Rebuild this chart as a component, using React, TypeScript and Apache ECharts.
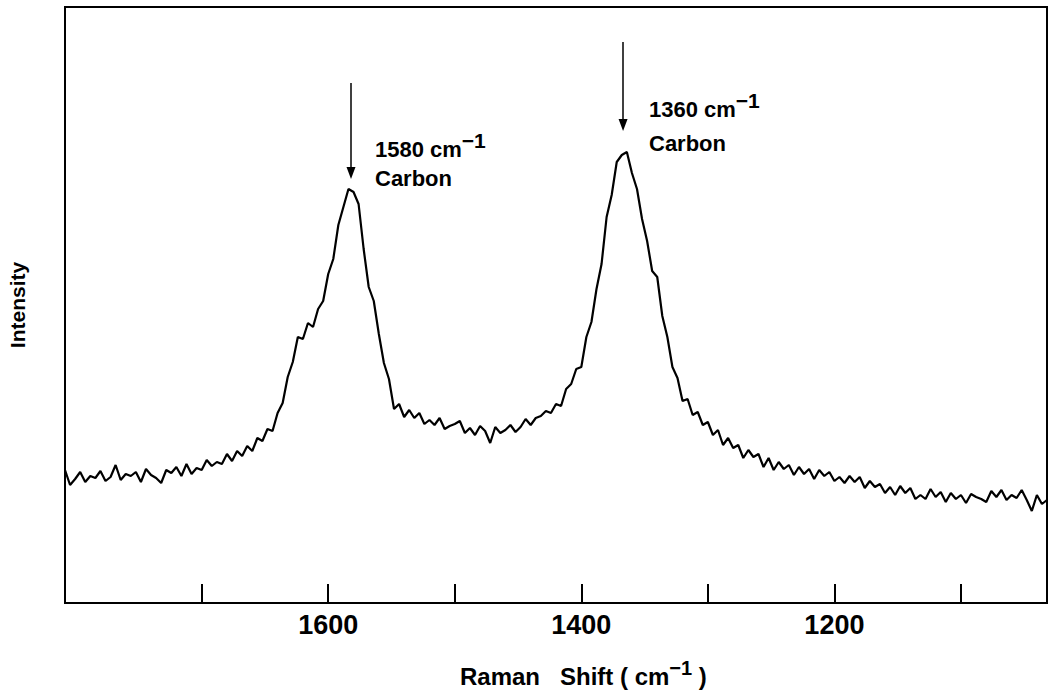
import React, { useEffect, useRef } from "react";
import * as echarts from "echarts";

// Raman shift sampling (cm^-1), read across the plot from left (high) to right (low)
const RAMAN_SHIFT = [
  1808, 1804, 1800, 1796, 1792, 1788, 1784, 1780, 1776, 1772, 1768, 1764, 1760, 1756, 1752, 1748,
  1744, 1740, 1736, 1732, 1728, 1724, 1720, 1716, 1712, 1708, 1704, 1700, 1696, 1692, 1688, 1684,
  1680, 1676, 1672, 1668, 1664, 1660, 1656, 1652, 1648, 1644, 1640, 1636, 1632, 1628, 1624, 1620,
  1616, 1612, 1608, 1604, 1600, 1596, 1592, 1588, 1584, 1580, 1576, 1572, 1568, 1564, 1560, 1556,
  1552, 1548, 1544, 1540, 1536, 1532, 1528, 1524, 1520, 1516, 1512, 1508, 1504, 1500, 1496, 1492,
  1488, 1484, 1480, 1476, 1472, 1468, 1464, 1460, 1456, 1452, 1448, 1444, 1440, 1436, 1432, 1428,
  1424, 1420, 1416, 1412, 1408, 1404, 1400, 1396, 1392, 1388, 1384, 1380, 1376, 1372, 1368, 1364,
  1360, 1356, 1352, 1348, 1344, 1340, 1336, 1332, 1328, 1324, 1320, 1316, 1312, 1308, 1304, 1300,
  1296, 1292, 1288, 1284, 1280, 1276, 1272, 1268, 1264, 1260, 1256, 1252, 1248, 1244, 1240, 1236,
  1232, 1228, 1224, 1220, 1216, 1212, 1208, 1204, 1200, 1196, 1192, 1188, 1184, 1180, 1176, 1172,
  1168, 1164, 1160, 1156, 1152, 1148, 1144, 1140, 1136, 1132, 1128, 1124, 1120, 1116, 1112, 1108,
  1104, 1100, 1096, 1092, 1088, 1084, 1080, 1076, 1072, 1068, 1064, 1060, 1056, 1052, 1048, 1044,
  1040, 1036, 1032,
];

// Intensity (arbitrary units)
const INTENSITY = [
  133, 118, 124, 131, 121, 127, 125, 132, 122, 126, 138, 123, 129, 127, 131, 121,
  134, 128, 125, 120, 133, 130, 136, 127, 139, 129, 135, 133, 143, 137, 141, 139,
  149, 142, 152, 147, 157, 152, 165, 162, 174, 172, 190, 200, 226, 241, 266, 264,
  280, 276, 294, 302, 329, 344, 378, 396, 414, 411, 399, 354, 316, 302, 269, 240,
  224, 194, 199, 186, 193, 185, 190, 179, 183, 178, 185, 174, 177, 179, 182, 170,
  175, 168, 177, 172, 160, 176, 170, 173, 178, 171, 176, 184, 178, 185, 187, 192,
  190, 199, 197, 214, 219, 234, 236, 266, 281, 314, 339, 386, 408, 441, 448, 451,
  430, 414, 384, 362, 332, 326, 287, 266, 236, 225, 202, 204, 188, 191, 178, 181,
  168, 173, 158, 165, 155, 158, 145, 153, 146, 149, 136, 145, 133, 141, 134, 138,
  128, 136, 129, 134, 124, 133, 127, 131, 122, 126, 120, 127, 121, 126, 115, 122,
  116, 119, 110, 116, 108, 117, 110, 115, 104, 108, 104, 114, 106, 111, 101, 110,
  104, 108, 100, 109, 106, 104, 101, 112, 106, 113, 103, 108, 105, 113, 103, 92,
  108, 99, 103,
];

const X_MIN = 1032;
const X_MAX = 1808;
const Y_MIN = 0;
const Y_MAX = 596;
const X_TICKS = [1700, 1600, 1500, 1400, 1300, 1200, 1100];
const X_LABELS = [1600, 1400, 1200];

// Peak annotations: arrow position (shift), arrow start and tip (intensity)
const PEAK_NAMES = ["1580", "1360"];
const ARROW_SHIFT = [1582, 1367];
const ARROW_FROM = [520, 561];
const ARROW_TO = [430, 478];

const FONT = "'Liberation Sans', Arial, Helvetica, sans-serif";

export default function App() {
  const ref = useRef<HTMLDivElement>(null);

  useEffect(() => {
    if (!ref.current) return;
    const chart = echarts.init(ref.current, undefined, { renderer: "svg" });

    const data = RAMAN_SHIFT.map((x, i) => [x, INTENSITY[i]]);
    const arrows = ARROW_SHIFT.map((s, i) => [
      { coord: [s, ARROW_FROM[i]] },
      { coord: [s, ARROW_TO[i]] },
    ]);

    const supRich = (size: number, sup: number, raise: number) => ({
      n: { fontSize: size, fontWeight: "bold", fontFamily: FONT, color: "#000" },
      s: {
        fontSize: sup,
        fontWeight: "bold",
        fontFamily: FONT,
        color: "#000",
        padding: [0, 0, raise * 2, 0],
      },
    });

    chart.setOption({
      animation: false,
      backgroundColor: "#fff",
      grid: {
        left: 65,
        right: 2,
        top: 7,
        bottom: 88,
        show: true,
        borderColor: "#000",
        borderWidth: 2,
        containLabel: false,
        outerBoundsMode: "none",
      },
      xAxis: {
        type: "value",
        inverse: true,
        min: X_MIN,
        max: X_MAX,
        axisLine: { show: true, onZero: false, lineStyle: { color: "#000", width: 2 } },
        axisTick: {
          show: true,
          inside: true,
          length: 19,
          lineStyle: { color: "#000", width: 2 },
          customValues: X_TICKS,
        },
        axisLabel: {
          show: true,
          customValues: X_LABELS,
          formatter: (v: number) => String(v),
          margin: 8,
          fontSize: 27,
          fontWeight: "bold",
          fontFamily: FONT,
          color: "#000",
        },
        splitLine: { show: false },
      },
      yAxis: {
        type: "value",
        min: Y_MIN,
        max: Y_MAX,
        name: "Intensity",
        nameLocation: "middle",
        nameGap: 37,
        nameRotate: 90,
        nameTextStyle: { fontSize: 21, fontWeight: "bold", fontFamily: FONT, color: "#000" },
        axisLine: { show: false },
        axisTick: { show: false },
        axisLabel: { show: false },
        splitLine: { show: false },
      },
      series: [
        {
          type: "line",
          data,
          showSymbol: false,
          symbol: "none",
          lineStyle: { color: "#000", width: 2.2 },
          silent: true,
          markLine: {
            silent: true,
            symbol: ["none", "triangle"],
            symbolSize: [9, 12],
            lineStyle: { color: "#000", width: 1.5, type: "solid" },
            label: { show: false },
            data: arrows,
          },
        },
      ],
      graphic: [
        {
          type: "text",
          x: 375,
          y: 149,
          style: {
            text: `{n|${PEAK_NAMES[0]} cm}{s|−1}`,
            rich: supRich(22, 21, 9),
            align: "left",
            verticalAlign: "middle",
          },
        },
        {
          type: "text",
          x: 375,
          y: 178,
          style: {
            text: "Carbon",
            font: `bold 22px ${FONT}`,
            fill: "#000",
            align: "left",
            verticalAlign: "middle",
          },
        },
        {
          type: "text",
          x: 649,
          y: 109,
          style: {
            text: `{n|${PEAK_NAMES[1]} cm}{s|−1}`,
            rich: supRich(22, 21, 9),
            align: "left",
            verticalAlign: "middle",
          },
        },
        {
          type: "text",
          x: 649,
          y: 143,
          style: {
            text: "Carbon",
            font: `bold 22px ${FONT}`,
            fill: "#000",
            align: "left",
            verticalAlign: "middle",
          },
        },
        {
          type: "text",
          x: 460,
          y: 676,
          style: {
            text: "{n|Raman   Shift ( cm}{s|−1}{n| )}",
            rich: supRich(24, 20, 8),
            align: "left",
            verticalAlign: "middle",
          },
        },
      ],
    });

    return () => chart.dispose();
  }, []);

  return (
    <div
      ref={ref}
      style={{ position: "fixed", left: 0, top: 0, width: 1049, height: 691, background: "#fff" }}
    />
  );
}
